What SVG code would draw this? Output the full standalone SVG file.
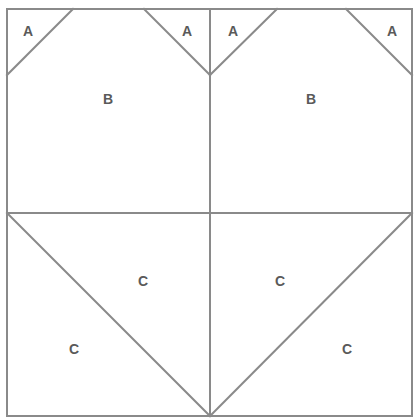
<svg xmlns="http://www.w3.org/2000/svg" width="414" height="418" viewBox="0 0 414 418">
<style>
.l{stroke:#8a8a8a;stroke-width:2;fill:none;stroke-linecap:square}
.t{font-family:"Liberation Sans",Arial,sans-serif;font-size:14px;font-weight:bold;fill:#5a5a5a;text-anchor:middle;dominant-baseline:central}
</style>
<rect width="414" height="418" fill="#fff"/>
<g id="connectors">
<rect class="l" x="7" y="9" width="405" height="407"/>
<line class="l" x1="210" y1="9" x2="210" y2="416"/>
<line class="l" x1="7" y1="213" x2="412" y2="213"/>
<line class="l" x1="7" y1="75" x2="73" y2="9"/>
<line class="l" x1="144" y1="9" x2="210" y2="75"/>
<line class="l" x1="210" y1="75" x2="277" y2="9"/>
<line class="l" x1="346" y1="9" x2="412" y2="75"/>
<line class="l" x1="7" y1="213" x2="210" y2="416"/>
<line class="l" x1="412" y1="213" x2="210" y2="416"/>
</g>
<g id="a1"><text class="t" x="28" y="31">A</text></g>
<g id="a2"><text class="t" x="187" y="31">A</text></g>
<g id="a3"><text class="t" x="233" y="31">A</text></g>
<g id="a4"><text class="t" x="392" y="31">A</text></g>
<g id="b1"><text class="t" x="108" y="99">B</text></g>
<g id="b2"><text class="t" x="311" y="99">B</text></g>
<g id="c1"><text class="t" x="143" y="281">C</text></g>
<g id="c2"><text class="t" x="74" y="349">C</text></g>
<g id="c3"><text class="t" x="280" y="281">C</text></g>
<g id="c4"><text class="t" x="347" y="349">C</text></g>
</svg>
